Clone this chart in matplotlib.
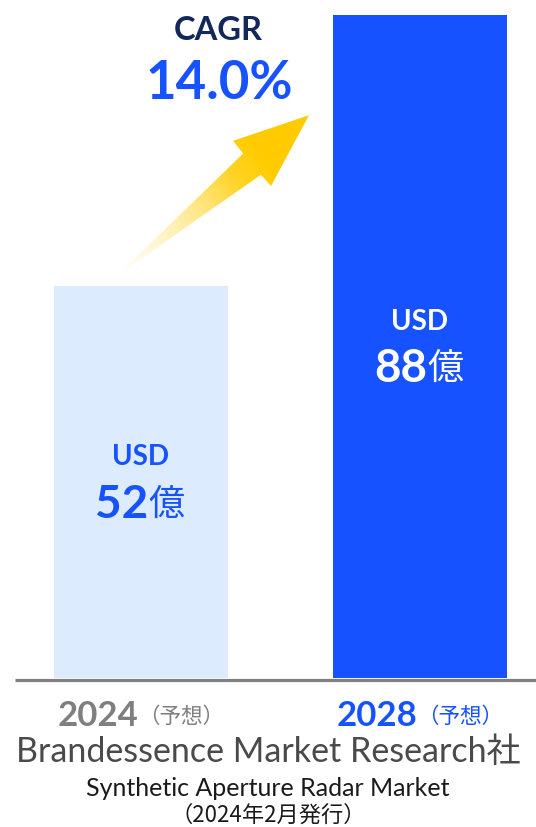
import numpy as np
import matplotlib.pyplot as plt
from matplotlib.path import Path
from matplotlib.patches import PathPatch
from matplotlib.colors import to_rgb

# 市場規模（億USD）
years = ['2024', '2028']
year_notes = ['（予想）', '（予想）']
values = [52, 88]
cagr_text = '14.0%'
source = 'Brandessence Market Research社'
market = 'Synthetic Aperture Radar Market'
issued = '（2024年2月発行）'

bar_colors = ['#dcebfd', '#1652ff']
label_colors = ['#1652ff', '#ffffff']
year_colors = ['#7f7f7f', '#1652ff']

LATIN = 'Lato'
JP = 'Noto Sans CJK JP'

fig = plt.figure(figsize=(5.36, 8.27), dpi=100)
ax = fig.add_axes([15 / 536, 149 / 827, 521 / 536, 663 / 827])

x = np.arange(len(values))
ax.bar(x, values, width=0.624, color=bar_colors, zorder=2)
ax.set_xlim(-0.4516, 1.4158)
ax.set_ylim(0, 88)
ax.axis('off')

# 下の基準線
ax.plot([0, 1], [-0.003, -0.003], transform=ax.transAxes, clip_on=False,
        color='#808080', lw=2.3, solid_capstyle='butt', zorder=3)

# 棒の中のラベル
for xi, v, c in zip(x, values, label_colors):
    ax.text(xi, v / 2 + 3.3, 'USD', ha='center', va='center', color=c,
            fontsize=20, fontweight='bold', family=LATIN, zorder=4)
    ax.text(xi + 0.025, v / 2 - 3.0, str(v), ha='right', va='center', color=c,
            fontsize=33, fontweight='bold', family=LATIN, zorder=4)
    ax.text(xi + 0.025, v / 2 - 3.0, '億', ha='left', va='center', color=c,
            fontsize=26, family=JP, zorder=4)

# 年のラベル
for xi, yr, note, c in zip(x, years, year_notes, year_colors):
    ax.text(xi - 0.01, -0.057, yr, transform=ax.get_xaxis_transform(),
            ha='right', va='center', color=c, fontsize=25, fontweight='bold',
            family=LATIN)
    ax.text(xi - 0.01, -0.058, note, transform=ax.get_xaxis_transform(),
            ha='left', va='center', color=c, fontsize=15.5, family=JP)

# CAGR
ax.text(0.276, 86.0, 'CAGR', ha='center', va='center', color='#13285a',
        fontsize=23.5, fontweight='bold', family=LATIN)
ax.text(0.28, 78.9, cagr_text, ha='center', va='center', color='#1652ff',
        fontsize=38, fontweight='bold', family=LATIN)

# グラデーションの矢印
arrow_xy = np.array([
    (-0.086, 53.4),   # 尾
    (0.366, 69.6),
    (0.330, 71.3),
    (0.602, 74.7),    # 先端
    (0.466, 65.3),
    (0.430, 66.8),
    (-0.086, 53.4),
])
codes = [Path.MOVETO] + [Path.LINETO] * 5 + [Path.CLOSEPOLY]
arrow = PathPatch(Path(arrow_xy, codes), facecolor='none', edgecolor='none')
ax.add_patch(arrow)

x0, x1 = arrow_xy[:, 0].min(), arrow_xy[:, 0].max()
y0, y1 = arrow_xy[:, 1].min(), arrow_xy[:, 1].max()
gx, gy = np.meshgrid(np.linspace(x0, x1, 300), np.linspace(y0, y1, 300))
pts = ax.transData.transform(np.column_stack([gx.ravel(), gy.ravel()]))
tail = ax.transData.transform(arrow_xy[0])
tip = ax.transData.transform(arrow_xy[3])
d = tip - tail
t = ((pts - tail) @ d / (d @ d)).reshape(gx.shape)
t = np.clip(t, 0, 1)
c0 = np.array(to_rgb('#fff6d0'))
c1 = np.array(to_rgb('#ffcc00'))
s = np.clip(t / 0.75, 0, 1)[..., None]
rgba = np.zeros(gx.shape + (4,))
rgba[..., :3] = c0 * (1 - s) + c1 * s
rgba[..., 3] = np.clip(0.15 + t * 1.4, 0, 1)
im = ax.imshow(rgba, extent=(x0, x1, y0, y1), origin='lower',
               aspect='auto', zorder=3, interpolation='bilinear')
im.set_clip_path(arrow)
ax.set_xlim(-0.4516, 1.4158)
ax.set_ylim(0, 88)

# 出典
fig.text(0.5, 1 - 752 / 827, source, ha='center', va='center',
         color='#4a4a4a', fontsize=24.5, family=[LATIN, JP])
fig.text(0.5, 1 - 789 / 827, market, ha='center', va='center',
         color='#1a1a1a', fontsize=18, family=[LATIN, JP])
fig.text(0.5, 1 - 815 / 827, issued, ha='center', va='center',
         color='#1a1a1a', fontsize=16, family=[JP])

fig.savefig('out.png', dpi=100, facecolor='white')
